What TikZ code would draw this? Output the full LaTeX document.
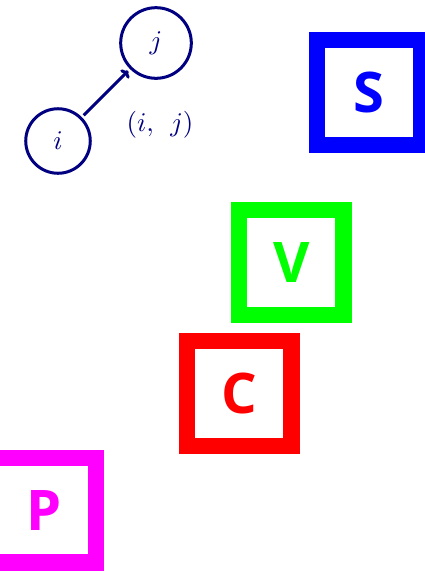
\documentclass[tikz,border=0pt]{standalone}
\usepackage{amsmath,amssymb}
\usepackage{fontspec}
\usepackage{xcolor}
\usepackage{tikz}
\usetikzlibrary{arrows.meta,positioning}
\newfontfamily\boxfont{Open Sans}
\definecolor{mainnavy}{RGB}{0,0,128}
\definecolor{mainblue}{RGB}{0,0,255}
\definecolor{maingreen}{RGB}{0,255,0}
\definecolor{mainred}{RGB}{255,0,0}
\definecolor{mainmagenta}{RGB}{255,0,255}
\tikzset{
  vertex/.style={circle,draw=mainnavy,line width=3pt,text=mainnavy,
    inner sep=5.9pt,scale=2.7,transform shape},
  letterbox/.style={rectangle,draw=#1,text=#1,line width=16.3pt,
    minimum size=104.4pt,inner sep=0pt,
    font=\boxfont\bfseries\fontsize{56}{60}\selectfont}
}

\begin{document}
\begin{tikzpicture}[x=1pt,y=-1pt]
  \useasboundingbox (0,0) rectangle (425,571);
  % edge (i,j)
  \node[vertex] (i) at (58,141) {$i$};
  \node[vertex] (j) at (156,43) {$j$};
  \draw[-{To[length=6pt,width=12pt]},line width=3pt,mainnavy] (i) -- (j);
  \node[text=mainnavy,scale=2.7,transform shape] (ij) at (160,125) {$(i,\;\,j)$};
  % boxes
  \node[letterbox=mainblue] (S) at (369.4,92.5) {S};
  \node[letterbox=maingreen] (V) at (291.3,262.5) {V};
  \node[letterbox=mainred] (C) at (239.2,393.5) {C};
  \node[letterbox=mainmagenta] (P) at (43.7,510.3) {P};
\end{tikzpicture}
\end{document}
